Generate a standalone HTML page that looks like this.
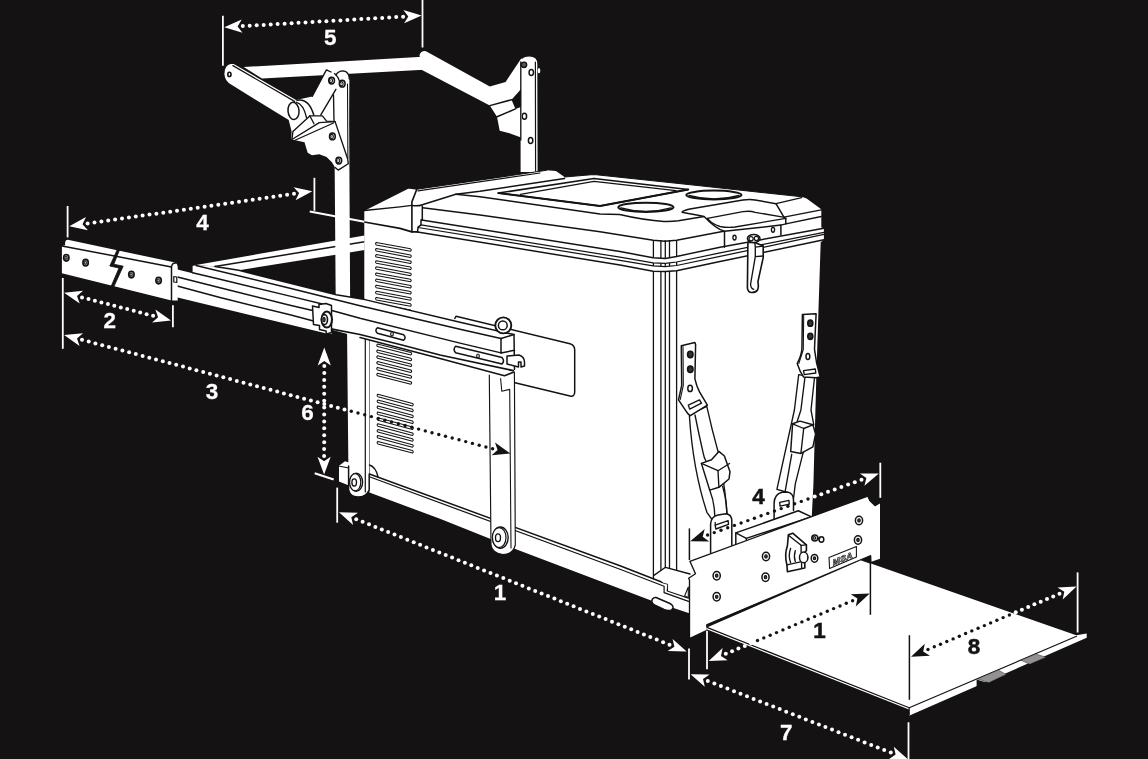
<!DOCTYPE html>
<html lang="en"><head><meta charset="utf-8"><title>Fridge slide dimensions</title>
<style>
html,body{margin:0;padding:0;background:#141213;overflow:hidden}
svg{display:block}
.lb{font-family:"Liberation Sans","DejaVu Sans",sans-serif;font-weight:700}
</style></head><body>
<svg width="1148" height="759" viewBox="0 0 1148 759" role="img" aria-label="Fridge slide dimension diagram" style="filter:opacity(1)">
<rect width="1148" height="759" fill="#141213"/>
<polygon points="196.0,265.0 335.7,240.5 364.5,235.5 364.5,250.0 335.7,254.8 238.8,270.3 214.9,266.5" fill="#ffffff" stroke="#141213" stroke-width="0.00" stroke-linejoin="round" />
<polyline points="214.9,266.5 335.7,246.5 364.5,241.7" fill="none" stroke="#141213" stroke-width="1.49" stroke-linejoin="round" stroke-linecap="round" />
<polygon points="334.0,80.0 348.9,80.0 350.2,312.0 335.8,312.0" fill="#ffffff" stroke="#141213" stroke-width="0.00" stroke-linejoin="round" />
<path d="M520.6,172 L520.6,64 Q520.6,56.6 529,56.6 Q537.3,56.6 537.3,64 L537.6,172 Z" fill="#ffffff" stroke="#141213" stroke-width="0.00" stroke-linejoin="round" stroke-linecap="round" />
<polyline points="535.4,62.0 535.6,171.0" fill="none" stroke="#141213" stroke-width="1.22" stroke-linejoin="round" stroke-linecap="round" />
<ellipse cx="531.3" cy="72.4" rx="2.2" ry="3.0" fill="#ffffff" stroke="#141213" stroke-width="1.49"/>
<ellipse cx="524.4" cy="116.2" rx="2.2" ry="3.0" fill="#ffffff" stroke="#141213" stroke-width="1.49"/>
<ellipse cx="530.6" cy="140.6" rx="2.2" ry="3.0" fill="#ffffff" stroke="#141213" stroke-width="1.49"/>
<ellipse cx="539.0" cy="70.7" rx="1.3" ry="2.6" fill="#ffffff" stroke="#141213" stroke-width="0.00"/>
<path d="M243.7,67.0 L427,56.6 Q430.3,62 428.6,69.4 L262,78.6 Z" fill="#ffffff" stroke="#141213" stroke-width="0.00" stroke-linejoin="round" stroke-linecap="round" />
<path d="M419.5,55 Q421,50.5 426,51.2 L489.8,86.5 L505.6,81.9 L521.2,58.6 L523.5,60 L521,137.5 L509.5,133.3 L499.7,130.7 L497,116.8 L489.8,105.6 L421.5,69.8 Z" fill="#ffffff" stroke="#141213" stroke-width="0.00" stroke-linejoin="round" stroke-linecap="round" />
<polygon points="520.9,89.2 511.5,99.7 515.5,108.9 520.9,107.0" fill="#141213" stroke="#141213" stroke-width="0.00" stroke-linejoin="round" />
<polyline points="489.8,105.6 511.5,99.7" fill="none" stroke="#141213" stroke-width="1.49" stroke-linejoin="round" stroke-linecap="round" />
<polyline points="497.0,116.8 515.5,108.9" fill="none" stroke="#141213" stroke-width="1.49" stroke-linejoin="round" stroke-linecap="round" />
<polyline points="520.8,62.0 520.8,140.0" fill="none" stroke="#141213" stroke-width="1.35" stroke-linejoin="round" stroke-linecap="round" />
<circle cx="524.0" cy="64.8" r="2.7" fill="#555" stroke="#141213" stroke-width="1.35"/>
<path d="M233.7,63.9 L296,100.1 L300,110 L288.7,120 L231.5,84.8 Q224.6,81 224.4,74 Q224.6,65 230.7,64 Z" fill="#ffffff" stroke="#141213" stroke-width="0.00" stroke-linejoin="round" stroke-linecap="round" />
<polyline points="232.9,65.6 295.0,101.6" fill="none" stroke="#141213" stroke-width="1.22" stroke-linejoin="round" stroke-linecap="round" />
<ellipse cx="229.4" cy="74.4" rx="1.6" ry="2.1" fill="#ffffff" stroke="#141213" stroke-width="1.62"/>
<polygon points="296.0,100.0 312.2,96.4 326.4,69.9 331.0,72.0 336.5,74.5 338.5,71.5 343.5,70.8 348.0,73.0 349.4,78.0 349.0,125.0 310.0,121.0" fill="#ffffff" stroke="#141213" stroke-width="0.00" stroke-linejoin="round" />
<polygon points="288.7,120.0 296.0,100.0 312.0,100.0 316.0,119.0 308.7,117.5 293.5,132.0 292.2,139.8 291.2,139.0 291.6,131.6 290.0,125.0" fill="#ffffff" stroke="#141213" stroke-width="0.00" stroke-linejoin="round" />
<polyline points="312.2,96.4 326.4,69.9 331.0,72.0" fill="none" stroke="#141213" stroke-width="1.35" stroke-linejoin="round" stroke-linecap="round" />
<path d="M336,75 Q338,71 343.3,70.9 Q349,71.5 349.3,79" fill="none" stroke="#141213" stroke-width="1.35" stroke-linejoin="round" stroke-linecap="round" />
<path d="M334.5,73.5 Q339,77 340,84" fill="none" stroke="#141213" stroke-width="1.22" stroke-linejoin="round" stroke-linecap="round" />
<ellipse cx="293.5" cy="110.9" rx="5.5" ry="8.7" fill="#ffffff" stroke="#141213" stroke-width="1.49" transform="rotate(-5 293.5 110.9)"/>
<path d="M296.5,102.3 Q303.5,104 306.6,117.9" fill="none" stroke="#141213" stroke-width="1.35" stroke-linejoin="round" stroke-linecap="round" />
<path d="M297,100.3 Q309,98 314,115.8" fill="none" stroke="#141213" stroke-width="1.49" stroke-linejoin="round" stroke-linecap="round" />
<polyline points="335.9,89.3 320.8,114.8" fill="none" stroke="#141213" stroke-width="1.35" stroke-linejoin="round" stroke-linecap="round" />
<polyline points="333.5,94.8 334.0,121.0" fill="none" stroke="#141213" stroke-width="1.35" stroke-linejoin="round" stroke-linecap="round" />
<ellipse cx="331.6" cy="80.6" rx="2.8899999999999997" ry="3.4" fill="#ffffff" stroke="#141213" stroke-width="1.49"/>
<ellipse cx="330.9" cy="80.6" rx="1.7" ry="2.04" fill="#e8e8e8" stroke="#141213" stroke-width="1.08"/>
<ellipse cx="330.6" cy="80.6" rx="0.612" ry="0.85" fill="#777" stroke="none" stroke-width="0.00"/>
<ellipse cx="342.2" cy="83.7" rx="2.8899999999999997" ry="3.4" fill="#ffffff" stroke="#141213" stroke-width="1.49"/>
<ellipse cx="341.5" cy="83.7" rx="1.7" ry="2.04" fill="#e8e8e8" stroke="#141213" stroke-width="1.08"/>
<ellipse cx="341.2" cy="83.7" rx="0.612" ry="0.85" fill="#777" stroke="none" stroke-width="0.00"/>
<polygon points="291.9,139.5 292.9,131.6 308.7,116.9 309.8,115.8 322.4,115.8 326.6,121.1 335.1,121.6 347.7,159.0 348.3,163.8 338.2,170.1 335.1,167.5 331.9,162.2 326.6,156.9 319.3,154.3 311.9,155.3 307.7,152.7 304.5,142.2" fill="#ffffff" stroke="#141213" stroke-width="0.00" stroke-linejoin="round" />
<polyline points="291.9,139.5 292.9,131.6 308.7,116.9 309.8,115.8 322.4,115.8 326.6,121.1 335.1,121.6 347.7,159.0 348.3,163.8 338.2,170.1 335.1,167.5" fill="none" stroke="#141213" stroke-width="1.35" stroke-linejoin="round" stroke-linecap="round" />
<polyline points="291.9,139.5 319.3,122.7 335.1,121.6" fill="none" stroke="#141213" stroke-width="1.35" stroke-linejoin="round" stroke-linecap="round" />
<polyline points="294.5,140.5 333.5,123.0" fill="none" stroke="#141213" stroke-width="1.35" stroke-linejoin="round" stroke-linecap="round" />
<polyline points="309.8,115.8 314.0,123.7" fill="none" stroke="#141213" stroke-width="1.35" stroke-linejoin="round" stroke-linecap="round" />
<ellipse cx="332.4" cy="136.4" rx="2.8899999999999997" ry="3.4" fill="#ffffff" stroke="#141213" stroke-width="1.49"/>
<ellipse cx="331.7" cy="136.4" rx="1.7" ry="2.04" fill="#e8e8e8" stroke="#141213" stroke-width="1.08"/>
<ellipse cx="331.4" cy="136.4" rx="0.612" ry="0.85" fill="#777" stroke="none" stroke-width="0.00"/>
<ellipse cx="338.8" cy="160.6" rx="2.8899999999999997" ry="3.4" fill="#ffffff" stroke="#141213" stroke-width="1.49"/>
<ellipse cx="338.1" cy="160.6" rx="1.7" ry="2.04" fill="#e8e8e8" stroke="#141213" stroke-width="1.08"/>
<ellipse cx="337.8" cy="160.6" rx="0.612" ry="0.85" fill="#777" stroke="none" stroke-width="0.00"/>
<polyline points="347.5,84.0 347.9,158.0" fill="none" stroke="#141213" stroke-width="1.08" stroke-linejoin="round" stroke-linecap="round" />
<polygon points="364.3,210.3 408.4,187.9 416.8,189.3 546.6,170.3 556.0,171.0 564.5,177.0 593.9,174.5 700.0,185.7 801.7,196.8 806.6,198.6 821.3,209.2 821.3,227.6 823.9,228.2 823.9,239.8 820.7,242.3 818.8,300.0 816.3,378.0 813.4,485.0 811.8,516.0 811.8,560.0 690.0,600.0 369.0,476.0 364.3,474.0" fill="#ffffff" stroke="#141213" stroke-width="0.00" stroke-linejoin="round" />
<polyline points="416.8,189.3 411.9,201.9 411.9,231.9" fill="none" stroke="#141213" stroke-width="1.62" stroke-linejoin="round" stroke-linecap="round" />
<polyline points="364.3,222.0 400.0,228.4 411.9,231.9 417.5,231.9" fill="none" stroke="#141213" stroke-width="1.62" stroke-linejoin="round" stroke-linecap="round" />
<polyline points="364.3,210.5 400.0,206.8 411.9,205.4" fill="none" stroke="#141213" stroke-width="1.35" stroke-linejoin="round" stroke-linecap="round" />
<polyline points="364.3,210.3 408.4,187.9 416.8,189.3 546.6,170.3" fill="none" stroke="#141213" stroke-width="1.08" stroke-linejoin="round" stroke-linecap="round" />
<polyline points="418.0,190.8 540.0,173.0" fill="none" stroke="#141213" stroke-width="1.22" stroke-linejoin="round" stroke-linecap="round" />
<polyline points="368.9,335.0 368.9,476.0" fill="none" stroke="#141213" stroke-width="1.49" stroke-linejoin="round" stroke-linecap="round" />
<path d="M411.9,205.4 Q418,206.5 422.3,204.7 L455.8,194.2 L480,191.2 L564.5,178.4" fill="none" stroke="#141213" stroke-width="1.49" stroke-linejoin="round" stroke-linecap="round" />
<polyline points="564.5,177.0 593.9,174.5 700.0,185.7 801.7,196.8" fill="none" stroke="#141213" stroke-width="1.08" stroke-linejoin="round" stroke-linecap="round" />
<polyline points="422.3,206.0 422.3,220.0 421.0,220.0 421.0,224.9 418.1,227.2 417.5,231.9" fill="none" stroke="#141213" stroke-width="1.49" stroke-linejoin="round" stroke-linecap="round" />
<path d="M455.8,194.2 L480,196.7 L600,214.0 L619.6,214.6 Q645,220.5 663.7,221.4 Q672,221.6 678.4,220.7 L704.1,216.5" fill="none" stroke="#141213" stroke-width="1.49" stroke-linejoin="round" stroke-linecap="round" />
<polyline points="422.7,207.8 480.0,215.1 600.0,231.8 653.3,240.3 665.0,241.3 676.6,240.3 723.7,231.2" fill="none" stroke="#141213" stroke-width="1.49" stroke-linejoin="round" stroke-linecap="round" />
<polyline points="785.8,223.9 821.3,216.5" fill="none" stroke="#141213" stroke-width="1.35" stroke-linejoin="round" stroke-linecap="round" />
<polygon points="498.4,193.1 593.9,178.4 688.2,189.5 600.0,205.9" fill="#ffffff" stroke="#141213" stroke-width="1.49" stroke-linejoin="round" />
<polyline points="520.4,194.3 593.9,181.4 676.0,190.7" fill="none" stroke="#141213" stroke-width="1.35" stroke-linejoin="round" stroke-linecap="round" />
<polyline points="498.4,193.1 600.0,205.9 688.2,189.5" fill="none" stroke="#141213" stroke-width="2.03" stroke-linejoin="round" stroke-linecap="round" />
<ellipse cx="645.9" cy="207.3" rx="27.6" ry="4.6" fill="#ffffff" stroke="#141213" stroke-width="2.03"/>
<path d="M621,207.8 Q646,215 671,207.8" fill="none" stroke="#141213" stroke-width="1.35" stroke-linejoin="round" stroke-linecap="round" />
<ellipse cx="713.9" cy="195.0" rx="27.6" ry="4.4" fill="#ffffff" stroke="#141213" stroke-width="2.03"/>
<path d="M689,195.5 Q714,202.5 739,195.5" fill="none" stroke="#141213" stroke-width="1.35" stroke-linejoin="round" stroke-linecap="round" />
<path d="M682.1,212.2 Q683,210.5 690,209 L742.9,200 Q750,199 755.1,200 L776,203.7 L783.9,217.2 L785.8,218.4 L785.8,223.9 L780.9,225.1 L724.5,231.3 Q716,229 704.1,216.5 Q695,214.5 682.1,212.2 Z" fill="#ffffff" stroke="#141213" stroke-width="1.49" stroke-linejoin="round" stroke-linecap="round" />
<path d="M707.4,218.4 L742.9,211.7 Q750,210.5 755.1,212.3 L783.3,217.2" fill="none" stroke="#141213" stroke-width="1.35" stroke-linejoin="round" stroke-linecap="round" />
<path d="M707.4,218.4 Q712,224 720,226.5 Q728,228 735,227 L785.8,218.4" fill="none" stroke="#141213" stroke-width="1.35" stroke-linejoin="round" stroke-linecap="round" />
<polyline points="776.0,203.7 801.7,197.6" fill="none" stroke="#141213" stroke-width="1.35" stroke-linejoin="round" stroke-linecap="round" />
<polyline points="783.9,217.2 821.3,209.8" fill="none" stroke="#141213" stroke-width="1.35" stroke-linejoin="round" stroke-linecap="round" />
<polyline points="653.4,240.6 653.4,590.0" fill="none" stroke="#141213" stroke-width="1.28" stroke-linejoin="round" stroke-linecap="round" />
<polyline points="660.9,240.6 660.9,590.0" fill="none" stroke="#141213" stroke-width="1.28" stroke-linejoin="round" stroke-linecap="round" />
<polyline points="665.3,240.6 665.3,590.0" fill="none" stroke="#141213" stroke-width="1.28" stroke-linejoin="round" stroke-linecap="round" />
<polyline points="669.5,240.6 669.5,590.0" fill="none" stroke="#141213" stroke-width="1.28" stroke-linejoin="round" stroke-linecap="round" />
<polyline points="676.6,240.6 676.6,590.0" fill="none" stroke="#141213" stroke-width="1.28" stroke-linejoin="round" stroke-linecap="round" />
<polygon points="620.0,251.6 653.1,257.7 665.3,258.5 676.6,256.4 720.0,247.2 720.0,252.9 676.6,262.0 665.3,263.3 653.1,262.9 620.0,257.2" fill="#ffffff" stroke="#141213" stroke-width="0.00" stroke-linejoin="round" />
<polygon points="620.0,260.3 653.1,265.9 665.3,266.6 676.6,265.5 720.0,256.4 720.0,261.6 676.6,270.7 665.3,271.6 653.1,271.2 620.0,265.1" fill="#ffffff" stroke="#141213" stroke-width="0.00" stroke-linejoin="round" />
<polyline points="421.6,220.0 620.0,251.6 653.1,257.7 665.3,258.5 676.6,256.4 720.0,247.2 823.9,228.2" fill="none" stroke="#141213" stroke-width="1.49" stroke-linejoin="round" stroke-linecap="round" />
<polyline points="421.0,224.9 620.0,257.2 653.1,262.9 665.3,263.3 676.6,262.0 720.0,252.9 823.9,232.4" fill="none" stroke="#141213" stroke-width="1.22" stroke-linejoin="round" stroke-linecap="round" />
<polyline points="418.1,227.5 620.0,260.3 653.1,265.9 665.3,266.6 676.6,265.5 720.0,256.4 823.9,234.4" fill="none" stroke="#141213" stroke-width="1.22" stroke-linejoin="round" stroke-linecap="round" />
<polyline points="417.5,231.9 620.0,265.1 653.1,271.2 665.3,271.6 676.6,270.7 720.0,261.6 823.9,239.8" fill="none" stroke="#141213" stroke-width="1.49" stroke-linejoin="round" stroke-linecap="round" />
<polyline points="724.5,231.3 724.5,247.2" fill="none" stroke="#141213" stroke-width="1.49" stroke-linejoin="round" stroke-linecap="round" />
<polyline points="780.9,225.1 780.9,234.9" fill="none" stroke="#141213" stroke-width="1.49" stroke-linejoin="round" stroke-linecap="round" />
<ellipse cx="734.5" cy="237.6" rx="1.6" ry="2.4" fill="#ffffff" stroke="#141213" stroke-width="1.35"/>
<ellipse cx="773.0" cy="229.8" rx="1.6" ry="2.4" fill="#ffffff" stroke="#141213" stroke-width="1.35"/>
<path d="M747.9,242.4 L747.4,288.2 Q748,292.5 751.6,292.5 Q756,292.5 757.5,290 Q759,287.5 757.9,281.9 L763.2,257.7 L763.2,246.1 L754.8,242.4 Z" fill="#ffffff" stroke="#141213" stroke-width="1.62" stroke-linejoin="round" stroke-linecap="round" />
<path d="M754.8,242.4 L755.3,247.1 L763.2,246.1 M755.3,247.1 L755.3,256.6 L763.2,256 M755.3,256.6 L750.6,284 Q750.5,288.5 753.7,289.3" fill="none" stroke="#141213" stroke-width="1.35" stroke-linejoin="round" stroke-linecap="round" />
<ellipse cx="753.7" cy="238.5" rx="6.3" ry="4.0" fill="#ffffff" stroke="#141213" stroke-width="1.49"/>
<circle cx="751.1" cy="238.7" r="2.1" fill="#ffffff" stroke="#141213" stroke-width="1.22"/>
<circle cx="756.4" cy="238.4" r="2.1" fill="#ffffff" stroke="#141213" stroke-width="1.22"/>
<path d="M376.3,242.4 L410.5,248.8 Q412.0,250.0 410.5,251.3 L376.3,244.9 Q374.8,243.7 376.3,242.4 Z" fill="#ffffff" stroke="#141213" stroke-width="1.05" stroke-linejoin="round" stroke-linecap="round" />
<path d="M376.3,248.5 L410.5,254.9 Q412.0,256.2 410.5,257.4 L376.3,251.0 Q374.8,249.8 376.3,248.5 Z" fill="#ffffff" stroke="#141213" stroke-width="1.05" stroke-linejoin="round" stroke-linecap="round" />
<path d="M376.3,254.6 L410.5,261.0 Q412.0,262.3 410.5,263.5 L376.3,257.1 Q374.8,255.9 376.3,254.6 Z" fill="#ffffff" stroke="#141213" stroke-width="1.05" stroke-linejoin="round" stroke-linecap="round" />
<path d="M376.3,260.7 L410.5,267.1 Q412.0,268.4 410.5,269.6 L376.3,263.2 Q374.8,262.0 376.3,260.7 Z" fill="#ffffff" stroke="#141213" stroke-width="1.05" stroke-linejoin="round" stroke-linecap="round" />
<path d="M376.3,266.8 L410.5,273.2 Q412.0,274.5 410.5,275.7 L376.3,269.3 Q374.8,268.1 376.3,266.8 Z" fill="#ffffff" stroke="#141213" stroke-width="1.05" stroke-linejoin="round" stroke-linecap="round" />
<path d="M376.3,272.9 L410.5,279.3 Q412.0,280.6 410.5,281.8 L376.3,275.4 Q374.8,274.2 376.3,272.9 Z" fill="#ffffff" stroke="#141213" stroke-width="1.05" stroke-linejoin="round" stroke-linecap="round" />
<path d="M376.3,279.1 L410.5,285.5 Q412.0,286.7 410.5,288.0 L376.3,281.6 Q374.8,280.3 376.3,279.1 Z" fill="#ffffff" stroke="#141213" stroke-width="1.05" stroke-linejoin="round" stroke-linecap="round" />
<path d="M376.3,285.2 L410.5,291.6 Q412.0,292.8 410.5,294.1 L376.3,287.7 Q374.8,286.4 376.3,285.2 Z" fill="#ffffff" stroke="#141213" stroke-width="1.05" stroke-linejoin="round" stroke-linecap="round" />
<path d="M376.3,291.3 L410.5,297.7 Q412.0,298.9 410.5,300.2 L376.3,293.8 Q374.8,292.5 376.3,291.3 Z" fill="#ffffff" stroke="#141213" stroke-width="1.05" stroke-linejoin="round" stroke-linecap="round" />
<path d="M376.3,297.4 L410.5,303.8 Q412.0,305.0 410.5,306.3 L376.3,299.9 Q374.8,298.6 376.3,297.4 Z" fill="#ffffff" stroke="#141213" stroke-width="1.05" stroke-linejoin="round" stroke-linecap="round" />
<path d="M376.3,303.5 L410.5,309.9 Q412.0,311.1 410.5,312.4 L376.3,306.0 Q374.8,304.8 376.3,303.5 Z" fill="#ffffff" stroke="#141213" stroke-width="1.05" stroke-linejoin="round" stroke-linecap="round" />
<path d="M377.5,338.2 L410.9,346.6 Q412.4,347.8 410.9,349.1 L377.5,340.7 Q376.0,339.4 377.5,338.2 Z" fill="#ffffff" stroke="#141213" stroke-width="1.05" stroke-linejoin="round" stroke-linecap="round" />
<path d="M377.5,344.1 L410.9,352.4 Q412.4,353.7 410.9,354.9 L377.5,346.6 Q376.0,345.3 377.5,344.1 Z" fill="#ffffff" stroke="#141213" stroke-width="1.05" stroke-linejoin="round" stroke-linecap="round" />
<path d="M377.5,349.9 L410.9,358.3 Q412.4,359.5 410.9,360.8 L377.5,352.4 Q376.0,351.1 377.5,349.9 Z" fill="#ffffff" stroke="#141213" stroke-width="1.05" stroke-linejoin="round" stroke-linecap="round" />
<path d="M377.5,355.8 L410.9,364.1 Q412.4,365.4 410.9,366.6 L377.5,358.2 Q376.0,357.0 377.5,355.8 Z" fill="#ffffff" stroke="#141213" stroke-width="1.05" stroke-linejoin="round" stroke-linecap="round" />
<path d="M377.5,361.6 L410.9,370.0 Q412.4,371.2 410.9,372.5 L377.5,364.1 Q376.0,362.8 377.5,361.6 Z" fill="#ffffff" stroke="#141213" stroke-width="1.05" stroke-linejoin="round" stroke-linecap="round" />
<path d="M377.5,367.4 L410.9,375.8 Q412.4,377.1 410.9,378.3 L377.5,369.9 Q376.0,368.7 377.5,367.4 Z" fill="#ffffff" stroke="#141213" stroke-width="1.05" stroke-linejoin="round" stroke-linecap="round" />
<path d="M377.5,373.3 L410.9,381.7 Q412.4,382.9 410.9,384.2 L377.5,375.8 Q376.0,374.5 377.5,373.3 Z" fill="#ffffff" stroke="#141213" stroke-width="1.05" stroke-linejoin="round" stroke-linecap="round" />
<path d="M377.9,394.2 L412.5,403.4 Q414.0,404.7 412.5,405.9 L377.9,396.7 Q376.4,395.4 377.9,394.2 Z" fill="#ffffff" stroke="#141213" stroke-width="1.05" stroke-linejoin="round" stroke-linecap="round" />
<path d="M377.9,400.1 L412.5,409.3 Q414.0,410.6 412.5,411.8 L377.9,402.6 Q376.4,401.3 377.9,400.1 Z" fill="#ffffff" stroke="#141213" stroke-width="1.05" stroke-linejoin="round" stroke-linecap="round" />
<path d="M377.9,406.0 L412.5,415.2 Q414.0,416.5 412.5,417.7 L377.9,408.5 Q376.4,407.2 377.9,406.0 Z" fill="#ffffff" stroke="#141213" stroke-width="1.05" stroke-linejoin="round" stroke-linecap="round" />
<path d="M377.9,411.9 L412.5,421.1 Q414.0,422.4 412.5,423.6 L377.9,414.4 Q376.4,413.1 377.9,411.9 Z" fill="#ffffff" stroke="#141213" stroke-width="1.05" stroke-linejoin="round" stroke-linecap="round" />
<path d="M377.9,417.8 L412.5,427.0 Q414.0,428.3 412.5,429.5 L377.9,420.3 Q376.4,419.1 377.9,417.8 Z" fill="#ffffff" stroke="#141213" stroke-width="1.05" stroke-linejoin="round" stroke-linecap="round" />
<path d="M377.9,423.7 L412.5,432.9 Q414.0,434.2 412.5,435.4 L377.9,426.2 Q376.4,424.9 377.9,423.7 Z" fill="#ffffff" stroke="#141213" stroke-width="1.05" stroke-linejoin="round" stroke-linecap="round" />
<path d="M377.9,429.6 L412.5,438.8 Q414.0,440.1 412.5,441.3 L377.9,432.1 Q376.4,430.9 377.9,429.6 Z" fill="#ffffff" stroke="#141213" stroke-width="1.05" stroke-linejoin="round" stroke-linecap="round" />
<path d="M377.9,435.5 L412.5,444.7 Q414.0,446.0 412.5,447.2 L377.9,438.0 Q376.4,436.8 377.9,435.5 Z" fill="#ffffff" stroke="#141213" stroke-width="1.05" stroke-linejoin="round" stroke-linecap="round" />
<path d="M377.9,441.4 L412.5,450.6 Q414.0,451.9 412.5,453.1 L377.9,443.9 Q376.4,442.6 377.9,441.4 Z" fill="#ffffff" stroke="#141213" stroke-width="1.05" stroke-linejoin="round" stroke-linecap="round" />
<path d="M454.8,318.5 L456,316.3 L570,343.8 Q574.7,345 574.7,350 L574.7,392 Q574.7,397 570,396 L515,382.8" fill="none" stroke="#141213" stroke-width="1.49" stroke-linejoin="round" stroke-linecap="round" />
<polygon points="369.4,474.0 664.6,583.6 690.0,593.0 690.0,613.5 652.4,601.0 516.0,549.2 440.0,518.8 369.4,492.5" fill="#ffffff" stroke="#141213" stroke-width="0.00" stroke-linejoin="round" />
<polyline points="369.4,474.0 620.0,565.7 663.5,582.8 668.1,584.1 667.4,590.7 688.5,598.0" fill="none" stroke="#141213" stroke-width="1.49" stroke-linejoin="round" stroke-linecap="round" />
<polyline points="369.4,476.8 620.0,569.2 664.1,586.3 664.1,592.7 688.5,601.3" fill="none" stroke="#141213" stroke-width="1.22" stroke-linejoin="round" stroke-linecap="round" />
<polygon points="653.6,575.6 665.5,567.3 690.0,574.0 690.0,598.0 668.1,590.7 668.1,584.1 663.5,582.8" fill="#ffffff" stroke="#141213" stroke-width="0.00" stroke-linejoin="round" />
<polyline points="653.6,575.6 665.5,567.3 690.0,574.0" fill="none" stroke="#141213" stroke-width="1.35" stroke-linejoin="round" stroke-linecap="round" />
<polygon points="684.6,596.0 688.3,587.0 688.3,597.5" fill="#ffffff" stroke="#141213" stroke-width="1.08" stroke-linejoin="round" />
<path d="M656,597.5 L670,603.5 Q675,606.5 672,609.5 Q669,611.5 664,609.5 L654.5,605 Q650.5,602 652.5,599 Q654,597 656,597.5 Z" fill="#ffffff" stroke="#141213" stroke-width="1.49" stroke-linejoin="round" stroke-linecap="round" />
<polygon points="339.0,465.8 345.0,461.2 349.0,462.5 349.0,485.5 339.0,481.6" fill="#ffffff" stroke="#141213" stroke-width="0.00" stroke-linejoin="round" />
<polyline points="339.6,466.2 349.0,468.0" fill="none" stroke="#141213" stroke-width="1.08" stroke-linejoin="round" stroke-linecap="round" />
<path d="M347.0,327 L369.2,327 L369.2,490 Q366,497 358,497 Q350,497 348.6,490 Z" fill="#ffffff" stroke="#141213" stroke-width="0.00" stroke-linejoin="round" stroke-linecap="round" />
<polyline points="365.3,336.0 365.3,492.0" fill="none" stroke="#141213" stroke-width="1.22" stroke-linejoin="round" stroke-linecap="round" />
<path d="M369.2,474 L369.2,490 Q366,497 358,497 Q350,497 348.6,490 L348.6,466" fill="none" stroke="#141213" stroke-width="1.49" stroke-linejoin="round" stroke-linecap="round" />
<ellipse cx="356.2" cy="482.2" rx="6.4" ry="9.0" fill="#ffffff" stroke="#141213" stroke-width="1.35"/>
<ellipse cx="355.2" cy="482.2" rx="5.6" ry="8.6" fill="#ffffff" stroke="#141213" stroke-width="1.22"/>
<ellipse cx="354.2" cy="482.4" rx="2.3" ry="3.6" fill="#ffffff" stroke="#141213" stroke-width="1.35"/>
<path d="M369.4,465 Q376,467 378,477" fill="none" stroke="#141213" stroke-width="1.35" stroke-linejoin="round" stroke-linecap="round" />
<path d="M489.3,374 L514.4,374 L515.3,545 Q513,554.5 503,554.5 Q492,553 491,545 Z" fill="#ffffff" stroke="#141213" stroke-width="0.00" stroke-linejoin="round" stroke-linecap="round" />
<path d="M489.3,375 L491,545 Q492,553 503,554.5 Q513,554.5 515.3,545 L514.4,372" fill="none" stroke="#141213" stroke-width="1.15" stroke-linejoin="round" stroke-linecap="round" />
<polyline points="500.6,378.5 501.8,391.2 509.7,389.4 511.0,548.0" fill="none" stroke="#141213" stroke-width="1.08" stroke-linejoin="round" stroke-linecap="round" />
<ellipse cx="500.4" cy="537.6" rx="7.8" ry="10.6" fill="#ffffff" stroke="#141213" stroke-width="1.35"/>
<ellipse cx="499.2" cy="537.6" rx="6.8" ry="10.0" fill="#ffffff" stroke="#141213" stroke-width="1.22"/>
<ellipse cx="498.0" cy="537.8" rx="2.5" ry="3.9" fill="#ffffff" stroke="#141213" stroke-width="1.35"/>
<polygon points="173.5,268.6 192.6,273.2 192.6,266.0 196.0,265.0 214.9,266.5 238.8,270.3 336.2,294.8 364.9,299.6 460.0,322.2 514.0,334.6 514.5,372.0 504.5,375.8 440.0,358.5 400.0,348.0 360.0,337.5 331.0,329.5 331.8,334.0 326.6,333.5 173.5,296.5" fill="#ffffff" stroke="#141213" stroke-width="0.00" stroke-linejoin="round" />
<polyline points="214.9,266.5 238.8,270.3 336.2,294.8 364.9,299.6 460.0,322.2 514.0,334.6 514.5,369.5" fill="none" stroke="#141213" stroke-width="1.49" stroke-linejoin="round" stroke-linecap="round" />
<polyline points="196.0,265.5 290.0,288.3 360.0,305.7 460.0,329.2 501.0,338.5" fill="none" stroke="#141213" stroke-width="1.49" stroke-linejoin="round" stroke-linecap="round" />
<polyline points="192.6,272.8 220.0,279.3 290.0,296.1 327.5,305.3" fill="none" stroke="#141213" stroke-width="1.49" stroke-linejoin="round" stroke-linecap="round" />
<polyline points="173.5,276.0 220.0,287.7 290.0,305.3 312.6,310.5" fill="none" stroke="#141213" stroke-width="1.49" stroke-linejoin="round" stroke-linecap="round" />
<polyline points="173.5,285.0 220.0,297.5 290.0,314.8 313.5,321.0" fill="none" stroke="#141213" stroke-width="1.49" stroke-linejoin="round" stroke-linecap="round" />
<polyline points="331.8,310.5 360.0,318.3 460.0,343.1 501.0,352.9 514.5,350.3" fill="none" stroke="#141213" stroke-width="1.49" stroke-linejoin="round" stroke-linecap="round" />
<polyline points="331.0,328.8 360.0,334.5 400.0,344.5 440.0,355.0 513.2,370.6" fill="none" stroke="#141213" stroke-width="1.76" stroke-linejoin="round" stroke-linecap="round" />
<polyline points="360.0,337.5 400.0,348.0 440.0,358.5 504.5,375.8 514.0,372.0" fill="none" stroke="#141213" stroke-width="1.49" stroke-linejoin="round" stroke-linecap="round" />
<polyline points="501.0,338.5 514.0,334.6" fill="none" stroke="#141213" stroke-width="1.49" stroke-linejoin="round" stroke-linecap="round" />
<polyline points="501.0,338.5 501.0,352.9" fill="none" stroke="#141213" stroke-width="1.49" stroke-linejoin="round" stroke-linecap="round" />
<path d="M377.4,327.8 L403.6,334.8 Q406.6,337.55 403.6,340.3 L377.4,333.3 Q374.4,330.55 377.4,327.8 Z" fill="#ffffff" stroke="#141213" stroke-width="1.49" stroke-linejoin="round" stroke-linecap="round" />
<path d="M455.6,346.3 L502,357.5 Q505,360.75 502,364.0 L455.6,352.8 Q452.6,349.55 455.6,346.3 Z" fill="#ffffff" stroke="#141213" stroke-width="1.49" stroke-linejoin="round" stroke-linecap="round" />
<ellipse cx="392.0" cy="334.0" rx="1.3" ry="2" fill="#ffffff" stroke="#141213" stroke-width="1.22"/>
<ellipse cx="478.0" cy="356.0" rx="1.3" ry="2" fill="#ffffff" stroke="#141213" stroke-width="1.22"/>
<circle cx="503.3" cy="325.4" r="8.0" fill="#ffffff" stroke="#141213" stroke-width="1.89"/>
<circle cx="502.8" cy="325.4" r="4.4" fill="#ffffff" stroke="#141213" stroke-width="1.49"/>
<path d="M507,356 L519,355 Q524.5,357 524.5,362 L524.5,366 L521,367 L521,362 L518.5,362 L518.5,367 L507,364 Z" fill="#ffffff" stroke="#141213" stroke-width="1.49" stroke-linejoin="round" stroke-linecap="round" />
<path d="M312.5,306 L319,307.5 L319,304.5 L326,303.5 L331.5,305.5 L331.5,332.5 L326.6,334 L326,331 L319.5,329.5 L319.5,325.5 L313.5,324.5 Z" fill="#ffffff" stroke="#141213" stroke-width="1.49" stroke-linejoin="round" stroke-linecap="round" />
<ellipse cx="326.8" cy="319.6" rx="5.2" ry="8.0" fill="#ffffff" stroke="#141213" stroke-width="2.03"/>
<ellipse cx="324.5" cy="319.6" rx="3.0" ry="5.0" fill="#ffffff" stroke="#141213" stroke-width="1.62"/>
<ellipse cx="324.0" cy="319.6" rx="1.2" ry="2.2" fill="#555" stroke="#141213" stroke-width="1.08"/>
<path d="M61.9,246 L65.2,245.2 Q64.4,240.2 67.8,239.8 L174,262.3 Q178,263.5 177.7,268 L177.7,300.4 L171.5,300.4 L61.9,273.2 Z" fill="#ffffff" stroke="#141213" stroke-width="0.00" stroke-linejoin="round" stroke-linecap="round" />
<polyline points="61.9,245.9 171.5,266.9 171.5,300.4" fill="none" stroke="#141213" stroke-width="1.49" stroke-linejoin="round" stroke-linecap="round" />
<path d="M171.5,266.9 Q172,263 175.5,263" fill="none" stroke="#141213" stroke-width="1.35" stroke-linejoin="round" stroke-linecap="round" />
<polygon points="117.3,249.5 119.5,250.0 113.8,264.2 123.2,266.2 113.8,286.8 111.2,286.2 119.0,268.0 109.8,266.0" fill="#141213" stroke="#141213" stroke-width="0.81" stroke-linejoin="round" />
<ellipse cx="66.3" cy="257.8" rx="2.7" ry="3.3" fill="#999" stroke="#141213" stroke-width="1.62"/>
<ellipse cx="66.0" cy="257.8" rx="1.1" ry="1.5" fill="#bbb" stroke="#141213" stroke-width="0.94"/>
<ellipse cx="85.6" cy="262.7" rx="2.7" ry="3.3" fill="#999" stroke="#141213" stroke-width="1.62"/>
<ellipse cx="85.3" cy="262.7" rx="1.1" ry="1.5" fill="#bbb" stroke="#141213" stroke-width="0.94"/>
<ellipse cx="131.4" cy="274.6" rx="2.7" ry="3.3" fill="#999" stroke="#141213" stroke-width="1.62"/>
<ellipse cx="131.1" cy="274.6" rx="1.1" ry="1.5" fill="#bbb" stroke="#141213" stroke-width="0.94"/>
<ellipse cx="158.6" cy="280.6" rx="2.7" ry="3.3" fill="#999" stroke="#141213" stroke-width="1.62"/>
<ellipse cx="158.3" cy="280.6" rx="1.1" ry="1.5" fill="#bbb" stroke="#141213" stroke-width="0.94"/>
<polygon points="173.8,276.5 176.8,277.0 176.8,282.5 173.8,282.0" fill="#ffffff" stroke="#141213" stroke-width="1.22" stroke-linejoin="round" />
<path d="M689.4,416 Q693,470 706.9,512.3 L713.4,521.5 L727,516 L726.3,504.9 Q724,480 718,451.4 Q712,430 706.8,406.4 L695,412 Z" fill="#ffffff" stroke="#141213" stroke-width="1.35" stroke-linejoin="round" stroke-linecap="round" />
<path d="M695,415 Q699,435 703.2,453.2 Q704,458 706,461" fill="none" stroke="#141213" stroke-width="1.35" stroke-linejoin="round" stroke-linecap="round" />
<path d="M681.3,345.8 L694.9,342.5 L695.6,344.5 L694.9,378.8 Q696.5,386 699.5,391.9 L707.4,405.1 L690.3,415.7 Q688,414.5 686.4,411.7 L678.5,399.9 L681.7,385.4 Z" fill="#ffffff" stroke="#141213" stroke-width="1.49" stroke-linejoin="round" stroke-linecap="round" />
<polyline points="683.0,346.5 683.3,385.4 680.2,399.6" fill="none" stroke="#141213" stroke-width="1.08" stroke-linejoin="round" stroke-linecap="round" />
<ellipse cx="690.3" cy="354.4" rx="2.7" ry="3.2" fill="#333" stroke="#141213" stroke-width="1.62"/>
<ellipse cx="690.3" cy="369.3" rx="2.7" ry="3.2" fill="#333" stroke="#141213" stroke-width="1.62"/>
<ellipse cx="690.1" cy="388.4" rx="2.3" ry="3.2" fill="#ffffff" stroke="#141213" stroke-width="1.49"/>
<polygon points="688.3,405.1 699.5,399.9 701.5,403.1 689.7,409.1" fill="#ffffff" stroke="#141213" stroke-width="1.35" stroke-linejoin="round" />
<polygon points="701.4,463.4 711.5,459.7 718.9,451.4 724.4,456.0 730.0,471.7 729.0,479.0 718.9,487.3 709.7,490.1" fill="#ffffff" stroke="#141213" stroke-width="1.49" stroke-linejoin="round" />
<polyline points="701.4,463.4 718.0,470.7 729.5,463.5" fill="none" stroke="#141213" stroke-width="1.35" stroke-linejoin="round" stroke-linecap="round" />
<polyline points="718.0,470.7 718.9,487.3" fill="none" stroke="#141213" stroke-width="1.35" stroke-linejoin="round" stroke-linecap="round" />
<path d="M709.7,490.1 Q713.5,500 714.3,508.6 L715.2,522.4 M722.6,486.4 Q725.5,496 726.3,504.9 L727.2,515.9" fill="none" stroke="#141213" stroke-width="1.35" stroke-linejoin="round" stroke-linecap="round" />
<path d="M710.6,552.8 L710.6,524 Q711,516.5 718,515 L726,513.8 Q731.8,514.5 731.8,521 L731.8,545.5" fill="#ffffff" stroke="#141213" stroke-width="1.49" stroke-linejoin="round" stroke-linecap="round" />
<polygon points="715.2,525.2 728.1,520.6 728.5,524.3 715.8,529.0" fill="#ffffff" stroke="#141213" stroke-width="1.35" stroke-linejoin="round" />
<polyline points="715.2,522.4 715.2,525.2" fill="none" stroke="#141213" stroke-width="1.22" stroke-linejoin="round" stroke-linecap="round" />
<path d="M798.7,374.6 L794.4,410 L776.9,489.3 L786,492 L793.5,498.6 L795.3,483.8 L802.7,454.3 L813.8,424.8 L811,410 L814.5,377.7 Z" fill="#ffffff" stroke="#141213" stroke-width="1.35" stroke-linejoin="round" stroke-linecap="round" />
<path d="M805.1,376.1 L800.9,410 L797,422" fill="none" stroke="#141213" stroke-width="1.35" stroke-linejoin="round" stroke-linecap="round" />
<path d="M802.4,314.5 L816.1,313.7 L814.5,349.3 Q816,363 820.1,376.9 L816.1,377.7 L803.5,376.9 L800.3,371.4 L797.2,363.5 Q801.5,355 801.9,349.3 Z" fill="#ffffff" stroke="#141213" stroke-width="1.49" stroke-linejoin="round" stroke-linecap="round" />
<polyline points="803.7,315.5 803.3,349.5 798.8,363.5" fill="none" stroke="#141213" stroke-width="1.08" stroke-linejoin="round" stroke-linecap="round" />
<ellipse cx="810.3" cy="323.2" rx="2.5" ry="3.1" fill="#333" stroke="#141213" stroke-width="1.62"/>
<ellipse cx="810.3" cy="336.3" rx="2.5" ry="3.1" fill="#333" stroke="#141213" stroke-width="1.62"/>
<ellipse cx="807.9" cy="356.4" rx="1.9" ry="3.0" fill="#ffffff" stroke="#141213" stroke-width="1.49"/>
<polygon points="803.5,370.6 815.3,369.0 815.8,373.0 804.3,374.6" fill="#ffffff" stroke="#141213" stroke-width="1.35" stroke-linejoin="round" />
<polygon points="792.6,423.8 800.0,421.1 812.9,424.8 815.6,434.0 812.9,446.9 800.9,453.4 790.7,451.5" fill="#ffffff" stroke="#141213" stroke-width="1.49" stroke-linejoin="round" />
<polyline points="792.6,423.8 803.7,428.5 812.9,424.8" fill="none" stroke="#141213" stroke-width="1.35" stroke-linejoin="round" stroke-linecap="round" />
<polyline points="803.7,428.5 800.9,453.4" fill="none" stroke="#141213" stroke-width="1.35" stroke-linejoin="round" stroke-linecap="round" />
<polyline points="791.7,454.3 785.2,491.2" fill="none" stroke="#141213" stroke-width="1.35" stroke-linejoin="round" stroke-linecap="round" />
<path d="M774.1,518.9 L774.1,503 Q774.5,494 782,492.3 L788,492.1 Q793.5,493.5 793.5,500 L793.5,510.6" fill="#ffffff" stroke="#141213" stroke-width="1.49" stroke-linejoin="round" stroke-linecap="round" />
<polygon points="779.7,502.3 788.9,500.4 789.3,504.2 780.1,506.2" fill="#ffffff" stroke="#141213" stroke-width="1.35" stroke-linejoin="round" />
<polygon points="735.8,532.9 798.3,510.8 811.0,516.6 811.0,530.0 746.5,546.0 735.8,546.0" fill="#ffffff" stroke="#141213" stroke-width="1.49" stroke-linejoin="round" />
<polyline points="735.8,532.9 746.3,538.4 811.0,517.0" fill="none" stroke="#141213" stroke-width="1.35" stroke-linejoin="round" stroke-linecap="round" />
<polyline points="746.3,538.4 746.3,546.0" fill="none" stroke="#141213" stroke-width="1.35" stroke-linejoin="round" stroke-linecap="round" />
<polygon points="706.5,627.3 860.8,560.0 870.9,563.5 1076.2,635.3 1086.7,633.6 1086.7,637.8 909.0,715.8 909.0,709.6 706.5,629.2" fill="#ffffff" stroke="#141213" stroke-width="0.00" stroke-linejoin="round" />
<polyline points="707.5,627.6 909.2,707.8 1076.5,636.3" fill="none" stroke="#141213" stroke-width="1.22" stroke-linejoin="round" stroke-linecap="round" />
<polyline points="909.2,707.8 909.2,715.0" fill="none" stroke="#141213" stroke-width="1.22" stroke-linejoin="round" stroke-linecap="round" />
<polygon points="977.4,678.9 998.3,670.0 1006.2,674.4 988.7,682.7" fill="#929292" stroke="#141213" stroke-width="0.41" stroke-linejoin="round" />
<polygon points="1021.0,660.3 1035.8,654.0 1046.2,657.2 1029.7,664.2" fill="#929292" stroke="#141213" stroke-width="0.41" stroke-linejoin="round" />
<polygon points="976.6,679.6 988.7,683.2 984.4,689.0 976.6,688.5" fill="#141213" stroke="#141213" stroke-width="0.00" stroke-linejoin="round" />
<polygon points="689.9,561.3 867.8,496.0 869.8,500.5 875.0,505.6 880.0,502.6 880.0,558.7 871.3,561.8 870.9,555.2 706.5,624.6 706.5,630.5 689.5,638.6 689.5,580.0 688.6,578.3 695.5,573.8" fill="#ffffff" stroke="#141213" stroke-width="0.00" stroke-linejoin="round" />
<polyline points="706.5,630.5 689.5,638.6 689.5,580.0 688.6,578.3 695.5,573.8 689.9,561.3 867.8,496.0 869.8,500.5 875.0,505.6 880.0,502.6" fill="none" stroke="#141213" stroke-width="1.35" stroke-linejoin="round" stroke-linecap="round" />
<polygon points="706.5,624.6 870.9,555.2 870.9,563.5 860.8,560.0 706.5,627.3" fill="#141213" stroke="#141213" stroke-width="0.54" stroke-linejoin="round" />
<ellipse cx="716.7" cy="575.7" rx="3.6" ry="4.2" fill="#ffffff" stroke="#141213" stroke-width="1.49"/>
<ellipse cx="716.7" cy="575.7" rx="1.3" ry="1.6" fill="#444" stroke="#141213" stroke-width="1.08"/>
<ellipse cx="716.7" cy="596.8" rx="3.6" ry="4.2" fill="#ffffff" stroke="#141213" stroke-width="1.49"/>
<ellipse cx="716.7" cy="596.8" rx="1.3" ry="1.6" fill="#444" stroke="#141213" stroke-width="1.08"/>
<ellipse cx="766.0" cy="556.5" rx="3.6" ry="4.2" fill="#ffffff" stroke="#141213" stroke-width="1.49"/>
<ellipse cx="766.0" cy="556.5" rx="1.3" ry="1.6" fill="#444" stroke="#141213" stroke-width="1.08"/>
<ellipse cx="765.5" cy="577.2" rx="3.6" ry="4.2" fill="#ffffff" stroke="#141213" stroke-width="1.49"/>
<ellipse cx="765.5" cy="577.2" rx="1.3" ry="1.6" fill="#444" stroke="#141213" stroke-width="1.08"/>
<ellipse cx="859.0" cy="520.5" rx="3.6" ry="4.2" fill="#ffffff" stroke="#141213" stroke-width="1.49"/>
<ellipse cx="859.0" cy="520.5" rx="1.3" ry="1.6" fill="#444" stroke="#141213" stroke-width="1.08"/>
<ellipse cx="858.0" cy="540.0" rx="3.6" ry="4.2" fill="#ffffff" stroke="#141213" stroke-width="1.49"/>
<ellipse cx="858.0" cy="540.0" rx="1.3" ry="1.6" fill="#444" stroke="#141213" stroke-width="1.08"/>
<ellipse cx="814.5" cy="558.3" rx="3.3" ry="3.9" fill="#ffffff" stroke="#141213" stroke-width="1.49"/>
<ellipse cx="814.5" cy="558.3" rx="1.2" ry="1.5" fill="#444" stroke="#141213" stroke-width="1.08"/>
<path d="M788.4,534.8 L792.7,533.2 L806.4,544.8 L806.4,550.6 L804.8,552.5 L807.6,557.4 L804.8,562.5 L804.8,568 L787.4,571.7 L786.9,564.8 Q784.2,555.3 787.4,545.8 Z" fill="#ffffff" stroke="#141213" stroke-width="1.62" stroke-linejoin="round" stroke-linecap="round" />
<polyline points="788.4,535.2 801.1,545.3 806.4,544.8" fill="none" stroke="#141213" stroke-width="1.35" stroke-linejoin="round" stroke-linecap="round" />
<polyline points="801.1,545.3 801.1,552.2" fill="none" stroke="#141213" stroke-width="1.35" stroke-linejoin="round" stroke-linecap="round" />
<path d="M790.6,548.5 Q788,555.5 790.6,562.7 M795.3,550.6 Q793.5,556 795.3,561.6" fill="none" stroke="#141213" stroke-width="1.35" stroke-linejoin="round" stroke-linecap="round" />
<polyline points="786.9,564.8 801.6,561.6 801.6,568.3" fill="none" stroke="#141213" stroke-width="1.35" stroke-linejoin="round" stroke-linecap="round" />
<ellipse cx="803.7" cy="557.4" rx="4.2" ry="5.3" fill="#ffffff" stroke="#141213" stroke-width="1.49"/>
<circle cx="814.8" cy="537.9" r="3.0" fill="#ffffff" stroke="#141213" stroke-width="1.49"/>
<circle cx="814.3" cy="537.9" r="1.3" fill="#ffffff" stroke="#141213" stroke-width="1.22"/>
<ellipse cx="821.4" cy="539.5" rx="2.4" ry="2.7" fill="#ffffff" stroke="#141213" stroke-width="1.49"/>
<polyline points="817.5,538.2 819.5,538.7" fill="none" stroke="#141213" stroke-width="1.76" stroke-linejoin="round" stroke-linecap="round" />
<polygon points="829.0,557.4 856.4,546.4 856.4,556.9 829.6,568.5" fill="#ffffff" stroke="#141213" stroke-width="1.08" stroke-linejoin="round" />
<text transform="matrix(1 -0.41 0 1 842.8 561.6)" font-size="8.6" text-anchor="middle" class="lb" fill="#fff" stroke="#222" stroke-width="0.7" style="letter-spacing:0.3px">MSA</text>
<line x1="222.9" y1="15.7" x2="222.9" y2="65.8" stroke="#ffffff" stroke-width="1.8"/>
<line x1="422.5" y1="0.0" x2="422.5" y2="47.5" stroke="#ffffff" stroke-width="1.8"/>
<polygon points="224.3,27.2 241.7,19.6 237.6,26.4 242.5,32.7" fill="#ffffff"/>
<polygon points="421.6,15.6 404.2,23.2 408.3,16.4 403.4,10.1" fill="#ffffff"/>
<circle cx="242.8" cy="26.1" r="2.00" fill="#ffffff"/>
<circle cx="249.7" cy="25.7" r="2.00" fill="#ffffff"/>
<circle cx="256.7" cy="25.3" r="2.00" fill="#ffffff"/>
<circle cx="263.7" cy="24.9" r="2.00" fill="#ffffff"/>
<circle cx="270.7" cy="24.5" r="2.00" fill="#ffffff"/>
<circle cx="277.6" cy="24.1" r="2.00" fill="#ffffff"/>
<circle cx="284.6" cy="23.7" r="2.00" fill="#ffffff"/>
<circle cx="291.6" cy="23.2" r="2.00" fill="#ffffff"/>
<circle cx="298.5" cy="22.8" r="2.00" fill="#ffffff"/>
<circle cx="305.5" cy="22.4" r="2.00" fill="#ffffff"/>
<circle cx="312.5" cy="22.0" r="2.00" fill="#ffffff"/>
<circle cx="319.5" cy="21.6" r="2.00" fill="#ffffff"/>
<circle cx="326.4" cy="21.2" r="2.00" fill="#ffffff"/>
<circle cx="333.4" cy="20.8" r="2.00" fill="#ffffff"/>
<circle cx="340.4" cy="20.4" r="2.00" fill="#ffffff"/>
<circle cx="347.4" cy="20.0" r="2.00" fill="#ffffff"/>
<circle cx="354.3" cy="19.6" r="2.00" fill="#ffffff"/>
<circle cx="361.3" cy="19.1" r="2.00" fill="#ffffff"/>
<circle cx="368.3" cy="18.7" r="2.00" fill="#ffffff"/>
<circle cx="375.2" cy="18.3" r="2.00" fill="#ffffff"/>
<circle cx="382.2" cy="17.9" r="2.00" fill="#ffffff"/>
<circle cx="389.2" cy="17.5" r="2.00" fill="#ffffff"/>
<circle cx="396.2" cy="17.1" r="2.00" fill="#ffffff"/>
<circle cx="403.1" cy="16.7" r="2.00" fill="#ffffff"/>
<text transform="translate(330.2 45.0) scale(1.06 1)" fill="#ffffff" stroke="#ffffff" stroke-width="0.25" font-size="21.2" text-anchor="middle" class="lb">5</text>
<line x1="67.6" y1="206.0" x2="67.6" y2="237.4" stroke="#ffffff" stroke-width="1.8"/>
<line x1="314.4" y1="177.8" x2="314.4" y2="210.8" stroke="#ffffff" stroke-width="1.8"/>
<line x1="309.7" y1="211.5" x2="364.3" y2="221.8" stroke="#ffffff" stroke-width="1.9"/>
<polygon points="69.3,226.2 86.0,217.1 82.5,224.3 87.9,230.2" fill="#ffffff"/>
<polygon points="312.3,191.2 295.6,200.3 299.1,193.1 293.7,187.2" fill="#ffffff"/>
<circle cx="87.6" cy="223.6" r="2.00" fill="#ffffff"/>
<circle cx="94.5" cy="222.6" r="2.00" fill="#ffffff"/>
<circle cx="101.4" cy="221.6" r="2.00" fill="#ffffff"/>
<circle cx="108.2" cy="220.6" r="2.00" fill="#ffffff"/>
<circle cx="115.1" cy="219.6" r="2.00" fill="#ffffff"/>
<circle cx="122.0" cy="218.6" r="2.00" fill="#ffffff"/>
<circle cx="128.9" cy="217.6" r="2.00" fill="#ffffff"/>
<circle cx="135.8" cy="216.6" r="2.00" fill="#ffffff"/>
<circle cx="142.6" cy="215.6" r="2.00" fill="#ffffff"/>
<circle cx="149.5" cy="214.6" r="2.00" fill="#ffffff"/>
<circle cx="156.4" cy="213.7" r="2.00" fill="#ffffff"/>
<circle cx="163.3" cy="212.7" r="2.00" fill="#ffffff"/>
<circle cx="170.2" cy="211.7" r="2.00" fill="#ffffff"/>
<circle cx="177.0" cy="210.7" r="2.00" fill="#ffffff"/>
<circle cx="183.9" cy="209.7" r="2.00" fill="#ffffff"/>
<circle cx="190.8" cy="208.7" r="2.00" fill="#ffffff"/>
<circle cx="197.7" cy="207.7" r="2.00" fill="#ffffff"/>
<circle cx="204.6" cy="206.7" r="2.00" fill="#ffffff"/>
<circle cx="211.4" cy="205.7" r="2.00" fill="#ffffff"/>
<circle cx="218.3" cy="204.7" r="2.00" fill="#ffffff"/>
<circle cx="225.2" cy="203.7" r="2.00" fill="#ffffff"/>
<circle cx="232.1" cy="202.8" r="2.00" fill="#ffffff"/>
<circle cx="239.0" cy="201.8" r="2.00" fill="#ffffff"/>
<circle cx="245.8" cy="200.8" r="2.00" fill="#ffffff"/>
<circle cx="252.7" cy="199.8" r="2.00" fill="#ffffff"/>
<circle cx="259.6" cy="198.8" r="2.00" fill="#ffffff"/>
<circle cx="266.5" cy="197.8" r="2.00" fill="#ffffff"/>
<circle cx="273.4" cy="196.8" r="2.00" fill="#ffffff"/>
<circle cx="280.2" cy="195.8" r="2.00" fill="#ffffff"/>
<circle cx="287.1" cy="194.8" r="2.00" fill="#ffffff"/>
<circle cx="294.0" cy="193.8" r="2.00" fill="#ffffff"/>
<text transform="translate(202.6 230.2) scale(1.06 1)" fill="#ffffff" stroke="#ffffff" stroke-width="0.25" font-size="21.2" text-anchor="middle" class="lb">4</text>
<line x1="62.8" y1="278.0" x2="62.8" y2="348.8" stroke="#ffffff" stroke-width="1.8"/>
<line x1="172.9" y1="305.3" x2="172.9" y2="327.2" stroke="#ffffff" stroke-width="1.8"/>
<polygon points="64.1,292.7 83.0,290.8 77.0,296.0 79.7,303.6" fill="#ffffff"/>
<polygon points="171.0,320.5 152.1,322.4 158.1,317.2 155.4,309.6" fill="#ffffff"/>
<circle cx="82.0" cy="297.4" r="2.00" fill="#ffffff"/>
<circle cx="88.5" cy="299.0" r="2.00" fill="#ffffff"/>
<circle cx="94.9" cy="300.7" r="2.00" fill="#ffffff"/>
<circle cx="101.4" cy="302.4" r="2.00" fill="#ffffff"/>
<circle cx="107.9" cy="304.1" r="2.00" fill="#ffffff"/>
<circle cx="114.3" cy="305.8" r="2.00" fill="#ffffff"/>
<circle cx="120.8" cy="307.4" r="2.00" fill="#ffffff"/>
<circle cx="127.2" cy="309.1" r="2.00" fill="#ffffff"/>
<circle cx="133.7" cy="310.8" r="2.00" fill="#ffffff"/>
<circle cx="140.2" cy="312.5" r="2.00" fill="#ffffff"/>
<circle cx="146.6" cy="314.2" r="2.00" fill="#ffffff"/>
<circle cx="153.1" cy="315.8" r="2.00" fill="#ffffff"/>
<text transform="translate(109.8 328.0) scale(1.06 1)" fill="#ffffff" stroke="#ffffff" stroke-width="0.25" font-size="21.2" text-anchor="middle" class="lb">2</text>
<polygon points="64.1,335.1 83.0,333.3 77.0,338.5 79.6,346.0" fill="#ffffff"/>
<polygon points="510.5,453.5 491.6,455.3 497.6,450.1 495.0,442.6" fill="#141213"/>
<circle cx="82.0" cy="339.8" r="2.00" fill="#ffffff"/>
<circle cx="88.7" cy="341.6" r="2.00" fill="#ffffff"/>
<circle cx="95.4" cy="343.4" r="2.00" fill="#ffffff"/>
<circle cx="102.2" cy="345.2" r="2.00" fill="#ffffff"/>
<circle cx="108.9" cy="347.0" r="2.00" fill="#ffffff"/>
<circle cx="115.6" cy="348.8" r="2.00" fill="#ffffff"/>
<circle cx="122.4" cy="350.6" r="2.00" fill="#ffffff"/>
<circle cx="129.1" cy="352.3" r="2.00" fill="#ffffff"/>
<circle cx="135.8" cy="354.1" r="2.00" fill="#ffffff"/>
<circle cx="142.6" cy="355.9" r="2.00" fill="#ffffff"/>
<circle cx="149.3" cy="357.7" r="2.00" fill="#ffffff"/>
<circle cx="156.0" cy="359.5" r="2.00" fill="#ffffff"/>
<circle cx="162.8" cy="361.3" r="2.00" fill="#ffffff"/>
<circle cx="169.5" cy="363.1" r="2.00" fill="#ffffff"/>
<circle cx="176.2" cy="364.8" r="2.00" fill="#ffffff"/>
<circle cx="183.0" cy="366.6" r="2.00" fill="#ffffff"/>
<circle cx="189.7" cy="368.4" r="2.00" fill="#ffffff"/>
<circle cx="196.4" cy="370.2" r="2.00" fill="#ffffff"/>
<circle cx="203.2" cy="372.0" r="2.00" fill="#ffffff"/>
<circle cx="209.9" cy="373.8" r="2.00" fill="#ffffff"/>
<circle cx="216.6" cy="375.6" r="2.00" fill="#ffffff"/>
<circle cx="223.3" cy="377.3" r="2.00" fill="#ffffff"/>
<circle cx="230.1" cy="379.1" r="2.00" fill="#ffffff"/>
<circle cx="236.8" cy="380.9" r="2.00" fill="#ffffff"/>
<circle cx="243.5" cy="382.7" r="2.00" fill="#ffffff"/>
<circle cx="250.3" cy="384.5" r="2.00" fill="#ffffff"/>
<circle cx="257.0" cy="386.3" r="2.00" fill="#ffffff"/>
<circle cx="263.7" cy="388.1" r="2.00" fill="#ffffff"/>
<circle cx="270.5" cy="389.8" r="2.00" fill="#ffffff"/>
<circle cx="277.2" cy="391.6" r="2.00" fill="#ffffff"/>
<circle cx="283.9" cy="393.4" r="2.00" fill="#ffffff"/>
<circle cx="290.7" cy="395.2" r="2.00" fill="#ffffff"/>
<circle cx="297.4" cy="397.0" r="2.00" fill="#ffffff"/>
<circle cx="304.1" cy="398.8" r="2.00" fill="#ffffff"/>
<circle cx="310.9" cy="400.5" r="2.00" fill="#ffffff"/>
<circle cx="317.6" cy="402.3" r="2.00" fill="#ffffff"/>
<circle cx="324.3" cy="404.1" r="2.00" fill="#ffffff"/>
<circle cx="331.1" cy="405.9" r="2.00" fill="#ffffff"/>
<circle cx="337.8" cy="407.7" r="2.00" fill="#ffffff"/>
<circle cx="344.5" cy="409.5" r="2.00" fill="#ffffff"/>
<circle cx="351.3" cy="411.3" r="1.70" fill="#141213"/>
<circle cx="358.0" cy="413.0" r="1.70" fill="#141213"/>
<circle cx="364.7" cy="414.8" r="1.70" fill="#141213"/>
<circle cx="371.4" cy="416.6" r="1.70" fill="#141213"/>
<circle cx="378.2" cy="418.4" r="1.70" fill="#141213"/>
<circle cx="384.9" cy="420.2" r="1.70" fill="#141213"/>
<circle cx="391.6" cy="422.0" r="1.70" fill="#141213"/>
<circle cx="398.4" cy="423.8" r="1.70" fill="#141213"/>
<circle cx="405.1" cy="425.5" r="1.70" fill="#141213"/>
<circle cx="411.8" cy="427.3" r="1.70" fill="#141213"/>
<circle cx="418.6" cy="429.1" r="1.70" fill="#141213"/>
<circle cx="425.3" cy="430.9" r="1.70" fill="#141213"/>
<circle cx="432.0" cy="432.7" r="1.70" fill="#141213"/>
<circle cx="438.8" cy="434.5" r="1.70" fill="#141213"/>
<circle cx="445.5" cy="436.3" r="1.70" fill="#141213"/>
<circle cx="452.2" cy="438.0" r="1.70" fill="#141213"/>
<circle cx="459.0" cy="439.8" r="1.70" fill="#141213"/>
<circle cx="465.7" cy="441.6" r="1.70" fill="#141213"/>
<circle cx="472.4" cy="443.4" r="1.70" fill="#141213"/>
<circle cx="479.2" cy="445.2" r="1.70" fill="#141213"/>
<circle cx="485.9" cy="447.0" r="1.70" fill="#141213"/>
<circle cx="492.6" cy="448.8" r="1.70" fill="#141213"/>
<text transform="translate(212.1 398.5) scale(1.06 1)" fill="#ffffff" stroke="#ffffff" stroke-width="0.25" font-size="21.2" text-anchor="middle" class="lb">3</text>
<polygon points="324.3,347.6 330.9,365.4 324.3,360.9 317.7,365.4" fill="#ffffff"/>
<polygon points="324.1,474.5 317.5,456.7 324.1,461.2 330.7,456.7" fill="#ffffff"/>
<circle cx="324.3" cy="366.1" r="2.00" fill="#ffffff"/>
<circle cx="324.3" cy="373.0" r="2.00" fill="#ffffff"/>
<circle cx="324.2" cy="379.9" r="2.00" fill="#ffffff"/>
<circle cx="324.2" cy="386.8" r="2.00" fill="#ffffff"/>
<circle cx="324.2" cy="393.8" r="2.00" fill="#ffffff"/>
<circle cx="324.2" cy="400.7" r="2.00" fill="#ffffff"/>
<circle cx="324.2" cy="407.6" r="2.00" fill="#ffffff"/>
<circle cx="324.2" cy="414.5" r="2.00" fill="#ffffff"/>
<circle cx="324.2" cy="421.4" r="2.00" fill="#ffffff"/>
<circle cx="324.2" cy="428.3" r="2.00" fill="#ffffff"/>
<circle cx="324.2" cy="435.3" r="2.00" fill="#ffffff"/>
<circle cx="324.2" cy="442.2" r="2.00" fill="#ffffff"/>
<circle cx="324.1" cy="449.1" r="2.00" fill="#ffffff"/>
<circle cx="324.1" cy="456.0" r="2.00" fill="#ffffff"/>
<text transform="translate(307.6 419.5) scale(1.06 1)" fill="#ffffff" stroke="#ffffff" stroke-width="0.25" font-size="21.2" text-anchor="middle" class="lb">6</text>
<line x1="314.7" y1="473.2" x2="333.7" y2="479.5" stroke="#ffffff" stroke-width="2.2"/>
<line x1="337.2" y1="487.6" x2="337.2" y2="522.7" stroke="#ffffff" stroke-width="1.8"/>
<line x1="689.0" y1="648.4" x2="689.0" y2="679.4" stroke="#ffffff" stroke-width="1.8"/>
<polygon points="339.0,512.3 358.0,512.8 351.3,517.2 353.1,525.0" fill="#ffffff"/>
<polygon points="686.7,651.6 667.7,651.1 674.4,646.7 672.6,638.9" fill="#ffffff"/>
<circle cx="356.2" cy="519.2" r="2.00" fill="#ffffff"/>
<circle cx="362.6" cy="521.7" r="2.00" fill="#ffffff"/>
<circle cx="369.0" cy="524.3" r="2.00" fill="#ffffff"/>
<circle cx="375.4" cy="526.9" r="2.00" fill="#ffffff"/>
<circle cx="381.8" cy="529.4" r="2.00" fill="#ffffff"/>
<circle cx="388.1" cy="532.0" r="2.00" fill="#ffffff"/>
<circle cx="394.5" cy="534.6" r="2.00" fill="#ffffff"/>
<circle cx="400.9" cy="537.1" r="2.00" fill="#ffffff"/>
<circle cx="407.3" cy="539.7" r="2.00" fill="#ffffff"/>
<circle cx="413.7" cy="542.2" r="2.00" fill="#ffffff"/>
<circle cx="420.1" cy="544.8" r="2.00" fill="#ffffff"/>
<circle cx="426.5" cy="547.4" r="2.00" fill="#ffffff"/>
<circle cx="432.9" cy="549.9" r="2.00" fill="#ffffff"/>
<circle cx="439.3" cy="552.5" r="2.00" fill="#ffffff"/>
<circle cx="445.7" cy="555.0" r="2.00" fill="#ffffff"/>
<circle cx="452.1" cy="557.6" r="2.00" fill="#ffffff"/>
<circle cx="458.5" cy="560.2" r="2.00" fill="#ffffff"/>
<circle cx="464.9" cy="562.7" r="2.00" fill="#ffffff"/>
<circle cx="471.3" cy="565.3" r="2.00" fill="#ffffff"/>
<circle cx="477.7" cy="567.9" r="2.00" fill="#ffffff"/>
<circle cx="484.1" cy="570.4" r="2.00" fill="#ffffff"/>
<circle cx="490.5" cy="573.0" r="2.00" fill="#ffffff"/>
<circle cx="496.9" cy="575.5" r="2.00" fill="#ffffff"/>
<circle cx="503.3" cy="578.1" r="2.00" fill="#ffffff"/>
<circle cx="509.7" cy="580.7" r="2.00" fill="#ffffff"/>
<circle cx="516.0" cy="583.2" r="2.00" fill="#ffffff"/>
<circle cx="522.4" cy="585.8" r="2.00" fill="#ffffff"/>
<circle cx="528.8" cy="588.4" r="2.00" fill="#ffffff"/>
<circle cx="535.2" cy="590.9" r="2.00" fill="#ffffff"/>
<circle cx="541.6" cy="593.5" r="2.00" fill="#ffffff"/>
<circle cx="548.0" cy="596.0" r="2.00" fill="#ffffff"/>
<circle cx="554.4" cy="598.6" r="2.00" fill="#ffffff"/>
<circle cx="560.8" cy="601.2" r="2.00" fill="#ffffff"/>
<circle cx="567.2" cy="603.7" r="2.00" fill="#ffffff"/>
<circle cx="573.6" cy="606.3" r="2.00" fill="#ffffff"/>
<circle cx="580.0" cy="608.9" r="2.00" fill="#ffffff"/>
<circle cx="586.4" cy="611.4" r="2.00" fill="#ffffff"/>
<circle cx="592.8" cy="614.0" r="2.00" fill="#ffffff"/>
<circle cx="599.2" cy="616.5" r="2.00" fill="#ffffff"/>
<circle cx="605.6" cy="619.1" r="2.00" fill="#ffffff"/>
<circle cx="612.0" cy="621.7" r="2.00" fill="#ffffff"/>
<circle cx="618.4" cy="624.2" r="2.00" fill="#ffffff"/>
<circle cx="624.8" cy="626.8" r="2.00" fill="#ffffff"/>
<circle cx="631.2" cy="629.3" r="2.00" fill="#ffffff"/>
<circle cx="637.6" cy="631.9" r="2.00" fill="#ffffff"/>
<circle cx="643.9" cy="634.5" r="2.00" fill="#ffffff"/>
<circle cx="650.3" cy="637.0" r="2.00" fill="#ffffff"/>
<circle cx="656.7" cy="639.6" r="2.00" fill="#ffffff"/>
<circle cx="663.1" cy="642.2" r="2.00" fill="#ffffff"/>
<circle cx="669.5" cy="644.7" r="2.00" fill="#ffffff"/>
<text transform="translate(500.0 599.8) scale(1.06 1)" fill="#ffffff" stroke="#ffffff" stroke-width="0.25" font-size="21.2" text-anchor="middle" class="lb">1</text>
<line x1="908.5" y1="722.3" x2="908.5" y2="759.0" stroke="#ffffff" stroke-width="1.8"/>
<polygon points="690.6,674.2 709.6,674.5 703.0,679.1 704.8,686.8" fill="#ffffff"/>
<polygon points="908.0,759.4 889.0,759.1 895.6,754.5 893.8,746.8" fill="#ffffff"/>
<circle cx="707.8" cy="681.0" r="2.00" fill="#ffffff"/>
<circle cx="714.4" cy="683.5" r="2.00" fill="#ffffff"/>
<circle cx="720.9" cy="686.1" r="2.00" fill="#ffffff"/>
<circle cx="727.4" cy="688.6" r="2.00" fill="#ffffff"/>
<circle cx="734.0" cy="691.2" r="2.00" fill="#ffffff"/>
<circle cx="740.5" cy="693.8" r="2.00" fill="#ffffff"/>
<circle cx="747.0" cy="696.3" r="2.00" fill="#ffffff"/>
<circle cx="753.6" cy="698.9" r="2.00" fill="#ffffff"/>
<circle cx="760.1" cy="701.4" r="2.00" fill="#ffffff"/>
<circle cx="766.6" cy="704.0" r="2.00" fill="#ffffff"/>
<circle cx="773.2" cy="706.6" r="2.00" fill="#ffffff"/>
<circle cx="779.7" cy="709.1" r="2.00" fill="#ffffff"/>
<circle cx="786.2" cy="711.7" r="2.00" fill="#ffffff"/>
<circle cx="792.8" cy="714.2" r="2.00" fill="#ffffff"/>
<circle cx="799.3" cy="716.8" r="2.00" fill="#ffffff"/>
<circle cx="805.8" cy="719.4" r="2.00" fill="#ffffff"/>
<circle cx="812.4" cy="721.9" r="2.00" fill="#ffffff"/>
<circle cx="818.9" cy="724.5" r="2.00" fill="#ffffff"/>
<circle cx="825.4" cy="727.0" r="2.00" fill="#ffffff"/>
<circle cx="832.0" cy="729.6" r="2.00" fill="#ffffff"/>
<circle cx="838.5" cy="732.2" r="2.00" fill="#ffffff"/>
<circle cx="845.0" cy="734.7" r="2.00" fill="#ffffff"/>
<circle cx="851.6" cy="737.3" r="2.00" fill="#ffffff"/>
<circle cx="858.1" cy="739.8" r="2.00" fill="#ffffff"/>
<circle cx="864.6" cy="742.4" r="2.00" fill="#ffffff"/>
<circle cx="871.2" cy="745.0" r="2.00" fill="#ffffff"/>
<circle cx="877.7" cy="747.5" r="2.00" fill="#ffffff"/>
<circle cx="884.2" cy="750.1" r="2.00" fill="#ffffff"/>
<circle cx="890.8" cy="752.6" r="2.00" fill="#ffffff"/>
<text transform="translate(786.3 740.0) scale(1.06 1)" fill="#ffffff" stroke="#ffffff" stroke-width="0.25" font-size="21.2" text-anchor="middle" class="lb">7</text>
<line x1="707.0" y1="630.7" x2="707.0" y2="669.2" stroke="#ffffff" stroke-width="1.8"/>
<line x1="870.4" y1="556.0" x2="870.4" y2="614.8" stroke="#141213" stroke-width="1.5"/>
<polygon points="708.7,661.0 722.6,648.0 721.0,655.9 727.7,660.2" fill="#ffffff"/>
<polygon points="869.7,593.5 855.8,606.5 857.4,598.6 850.7,594.3" fill="#141213"/>
<circle cx="725.8" cy="653.8" r="2.00" fill="#ffffff"/>
<circle cx="732.1" cy="651.2" r="2.00" fill="#ffffff"/>
<circle cx="738.4" cy="648.5" r="2.00" fill="#ffffff"/>
<circle cx="744.8" cy="645.9" r="2.00" fill="#ffffff"/>
<circle cx="751.1" cy="643.2" r="2.00" fill="#ffffff"/>
<circle cx="757.5" cy="640.5" r="1.70" fill="#141213"/>
<circle cx="763.8" cy="637.9" r="1.70" fill="#141213"/>
<circle cx="770.2" cy="635.2" r="1.70" fill="#141213"/>
<circle cx="776.5" cy="632.6" r="1.70" fill="#141213"/>
<circle cx="782.9" cy="629.9" r="1.70" fill="#141213"/>
<circle cx="789.2" cy="627.2" r="1.70" fill="#141213"/>
<circle cx="795.5" cy="624.6" r="1.70" fill="#141213"/>
<circle cx="801.9" cy="621.9" r="1.70" fill="#141213"/>
<circle cx="808.2" cy="619.3" r="1.70" fill="#141213"/>
<circle cx="814.6" cy="616.6" r="1.70" fill="#141213"/>
<circle cx="820.9" cy="614.0" r="1.70" fill="#141213"/>
<circle cx="827.3" cy="611.3" r="1.70" fill="#141213"/>
<circle cx="833.6" cy="608.6" r="1.70" fill="#141213"/>
<circle cx="840.0" cy="606.0" r="1.70" fill="#141213"/>
<circle cx="846.3" cy="603.3" r="1.70" fill="#141213"/>
<circle cx="852.6" cy="600.7" r="1.70" fill="#141213"/>
<text transform="translate(819.4 638.2) scale(1.06 1)" fill="#141213" stroke="#141213" stroke-width="0.5" font-size="21.2" text-anchor="middle" class="lb">1</text>
<line x1="909.4" y1="635.2" x2="909.4" y2="699.8" stroke="#141213" stroke-width="1.5"/>
<line x1="1077.6" y1="572.4" x2="1077.6" y2="632.5" stroke="#ffffff" stroke-width="1.8"/>
<polygon points="911.0,656.7 924.8,643.7 923.2,651.5 930.0,655.8" fill="#141213"/>
<polygon points="1076.5,586.5 1062.7,599.5 1064.3,591.7 1057.5,587.4" fill="#ffffff"/>
<circle cx="928.0" cy="649.5" r="1.70" fill="#141213"/>
<circle cx="934.3" cy="646.8" r="1.70" fill="#141213"/>
<circle cx="940.5" cy="644.2" r="1.70" fill="#141213"/>
<circle cx="946.8" cy="641.5" r="1.70" fill="#141213"/>
<circle cx="953.1" cy="638.9" r="1.70" fill="#141213"/>
<circle cx="959.3" cy="636.2" r="1.70" fill="#141213"/>
<circle cx="965.6" cy="633.5" r="1.70" fill="#141213"/>
<circle cx="971.8" cy="630.9" r="1.70" fill="#141213"/>
<circle cx="978.1" cy="628.2" r="1.70" fill="#141213"/>
<circle cx="984.4" cy="625.6" r="1.70" fill="#141213"/>
<circle cx="990.6" cy="622.9" r="1.70" fill="#141213"/>
<circle cx="996.9" cy="620.3" r="1.70" fill="#141213"/>
<circle cx="1003.1" cy="617.6" r="1.70" fill="#141213"/>
<circle cx="1009.4" cy="615.0" r="1.70" fill="#141213"/>
<circle cx="1015.7" cy="612.3" r="2.00" fill="#ffffff"/>
<circle cx="1021.9" cy="609.7" r="2.00" fill="#ffffff"/>
<circle cx="1028.2" cy="607.0" r="2.00" fill="#ffffff"/>
<circle cx="1034.4" cy="604.3" r="2.00" fill="#ffffff"/>
<circle cx="1040.7" cy="601.7" r="2.00" fill="#ffffff"/>
<circle cx="1047.0" cy="599.0" r="2.00" fill="#ffffff"/>
<circle cx="1053.2" cy="596.4" r="2.00" fill="#ffffff"/>
<circle cx="1059.5" cy="593.7" r="2.00" fill="#ffffff"/>
<text transform="translate(974.1 654.0) scale(1.06 1)" fill="#141213" stroke="#141213" stroke-width="0.5" font-size="21.2" text-anchor="middle" class="lb">8</text>
<line x1="689.4" y1="528.4" x2="689.4" y2="560.0" stroke="#141213" stroke-width="1.5"/>
<line x1="880.3" y1="462.7" x2="880.3" y2="497.8" stroke="#ffffff" stroke-width="1.8"/>
<polygon points="690.2,541.2 704.7,529.0 702.7,536.7 709.2,541.4" fill="#141213"/>
<polygon points="878.9,473.6 864.4,485.8 866.4,478.1 859.9,473.4" fill="#ffffff"/>
<circle cx="707.6" cy="535.0" r="1.70" fill="#141213"/>
<circle cx="714.3" cy="532.6" r="1.70" fill="#141213"/>
<circle cx="721.0" cy="530.2" r="1.70" fill="#141213"/>
<circle cx="727.7" cy="527.8" r="1.70" fill="#141213"/>
<circle cx="734.4" cy="525.4" r="1.70" fill="#141213"/>
<circle cx="741.1" cy="523.0" r="1.70" fill="#141213"/>
<circle cx="747.8" cy="520.6" r="1.70" fill="#141213"/>
<circle cx="754.4" cy="518.2" r="1.70" fill="#141213"/>
<circle cx="761.1" cy="515.8" r="1.70" fill="#141213"/>
<circle cx="767.8" cy="513.4" r="1.70" fill="#141213"/>
<circle cx="774.5" cy="511.0" r="1.70" fill="#141213"/>
<circle cx="781.2" cy="508.6" r="1.70" fill="#141213"/>
<circle cx="787.9" cy="506.2" r="1.70" fill="#141213"/>
<circle cx="794.6" cy="503.8" r="1.70" fill="#141213"/>
<circle cx="801.3" cy="501.4" r="1.70" fill="#141213"/>
<circle cx="808.0" cy="499.0" r="1.70" fill="#141213"/>
<circle cx="814.7" cy="496.6" r="2.00" fill="#ffffff"/>
<circle cx="821.3" cy="494.2" r="2.00" fill="#ffffff"/>
<circle cx="828.0" cy="491.8" r="2.00" fill="#ffffff"/>
<circle cx="834.7" cy="489.4" r="2.00" fill="#ffffff"/>
<circle cx="841.4" cy="487.0" r="2.00" fill="#ffffff"/>
<circle cx="848.1" cy="484.6" r="2.00" fill="#ffffff"/>
<circle cx="854.8" cy="482.2" r="2.00" fill="#ffffff"/>
<circle cx="861.5" cy="479.8" r="2.00" fill="#ffffff"/>
<text transform="translate(758.6 503.8) scale(1.06 1)" fill="#141213" stroke="#141213" stroke-width="0.5" font-size="21.2" text-anchor="middle" class="lb">4</text>
</svg>
</body></html>
